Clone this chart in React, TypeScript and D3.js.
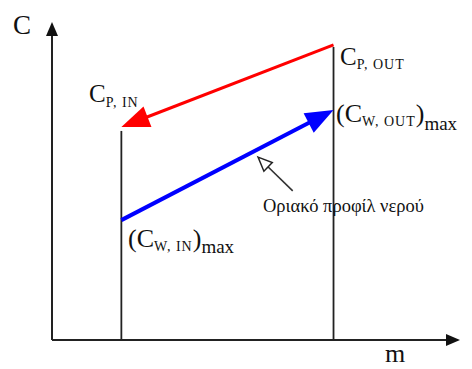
import React from "react";
import * as d3 from "d3";

const W = 472;
const H = 369;

// abstract units on the m (x) and C (y) axes
const axisMax = [10, 10];
const mStations = [1.7, 6.9]; // m_in, m_out
const processLine = [9.28, 6.7]; // C_P,OUT (at m_out) -> C_P,IN (at m_in)
const waterLine = [3.77, 7.23]; // (C_W,IN)max (at m_in) -> (C_W,OUT)max (at m_out)
const pointer = { from: [5.9, 4.69], to: [5.05, 5.75] };

const FONT = "'Liberation Serif', 'DejaVu Serif', serif";

function arrowHead(tip: [number, number], from: [number, number], len: number, half: number) {
  const dx = tip[0] - from[0];
  const dy = tip[1] - from[1];
  const L = Math.hypot(dx, dy);
  const ux = dx / L, uy = dy / L;
  const bx = tip[0] - ux * len, by = tip[1] - uy * len;
  const px = -uy, py = ux;
  return `M${tip[0]},${tip[1]}L${bx + px * half},${by + py * half}L${bx - px * half},${by - py * half}Z`;
}

export default function App() {
  const x = d3.scaleLinear().domain([0, axisMax[0]]).range([52, 460]);
  const y = d3.scaleLinear().domain([0, axisMax[1]]).range([340, 22]);

  const x0 = x(0), y0 = y(0);
  const xIn = x(mStations[0]), xOut = x(mStations[1]);

  const redStart: [number, number] = [xOut, y(processLine[0])];
  const redTip: [number, number] = [xIn, y(processLine[1])];
  const blueStart: [number, number] = [xIn, y(waterLine[0])];
  const blueTip: [number, number] = [xOut, y(waterLine[1])];

  const shorten = (a: [number, number], b: [number, number], d: number): [number, number] => {
    const L = Math.hypot(b[0] - a[0], b[1] - a[1]);
    return [b[0] - ((b[0] - a[0]) / L) * d, b[1] - ((b[1] - a[1]) / L) * d];
  };

  const line = d3.line();
  const pFrom: [number, number] = [x(pointer.from[0]), y(pointer.from[1])];
  const pTo: [number, number] = [x(pointer.to[0]), y(pointer.to[1])];

  return (
    <svg width={W} height={H} style={{ position: "absolute", left: 0, top: 0, background: "#fff" }}>
      {/* axes */}
      <path d={line([[x0, y0], [x0, y(axisMax[1]) + 10]]) || ""} stroke="#222" strokeWidth={2} fill="none" />
      <path d={arrowHead([x0, y(axisMax[1])], [x0, y0], 14, 6)} fill="#111" />
      <path d={line([[x0, y0], [x(axisMax[0]) - 10, y0]]) || ""} stroke="#222" strokeWidth={2} fill="none" />
      <path d={arrowHead([x(axisMax[0]), y0], [x0, y0], 14, 6)} fill="#111" />

      {/* verticals */}
      <path d={line([[xIn, y0], [xIn, redTip[1] + 4]]) || ""} stroke="#222" strokeWidth={1.8} fill="none" />
      <path d={line([[xOut, y0], [xOut, redStart[1] + 2]]) || ""} stroke="#222" strokeWidth={1.8} fill="none" />

      {/* red process line */}
      <path d={line([redStart, shorten(redStart, redTip, 20)]) || ""} stroke="#ff0000" strokeWidth={3} fill="none" />
      <path d={arrowHead(redTip, redStart, 28, 11)} fill="#ff0000" />

      {/* blue water line */}
      <path d={line([blueStart, shorten(blueStart, blueTip, 20)]) || ""} stroke="#0000ff" strokeWidth={4} fill="none" />
      <path d={arrowHead(blueTip, blueStart, 28, 11)} fill="#0000ff" />

      {/* pointer */}
      <path d={line([pFrom, shorten(pFrom, pTo, 12)]) || ""} stroke="#333" strokeWidth={1.6} fill="none" />
      <path d={arrowHead(pTo, pFrom, 14, 6)} fill="#fff" stroke="#222" strokeWidth={1.5} strokeLinejoin="miter" />

      {/* labels */}
      <g fontFamily={FONT} fill="#111">
        <text x={13} y={34} fontSize={27}>C</text>
        <text x={385} y={362} fontSize={26}>m</text>

        <text x={89} y={102} fontSize={25}>
          C<tspan fontSize={14} dy={5} letterSpacing={1}>P, IN</tspan>
        </text>
        <text x={340} y={65} fontSize={25}>
          C<tspan fontSize={14} dy={4} letterSpacing={1}>P, OUT</tspan>
        </text>
        <text x={336} y={122} fontSize={26}>
          (C<tspan fontSize={14} dy={4} letterSpacing={1}>W, OUT</tspan>
          <tspan fontSize={26} dy={-4}>)</tspan>
          <tspan fontSize={19} dy={8}>max</tspan>
        </text>
        <text x={128} y={247} fontSize={26}>
          (C<tspan fontSize={14} dy={4} letterSpacing={1}>W, IN</tspan>
          <tspan fontSize={26} dy={-4}>)</tspan>
          <tspan fontSize={19} dy={6}>max</tspan>
        </text>
        <text x={263} y={212} fontSize={18.5}>Οριακό προφίλ νερού</text>
      </g>
    </svg>
  );
}
